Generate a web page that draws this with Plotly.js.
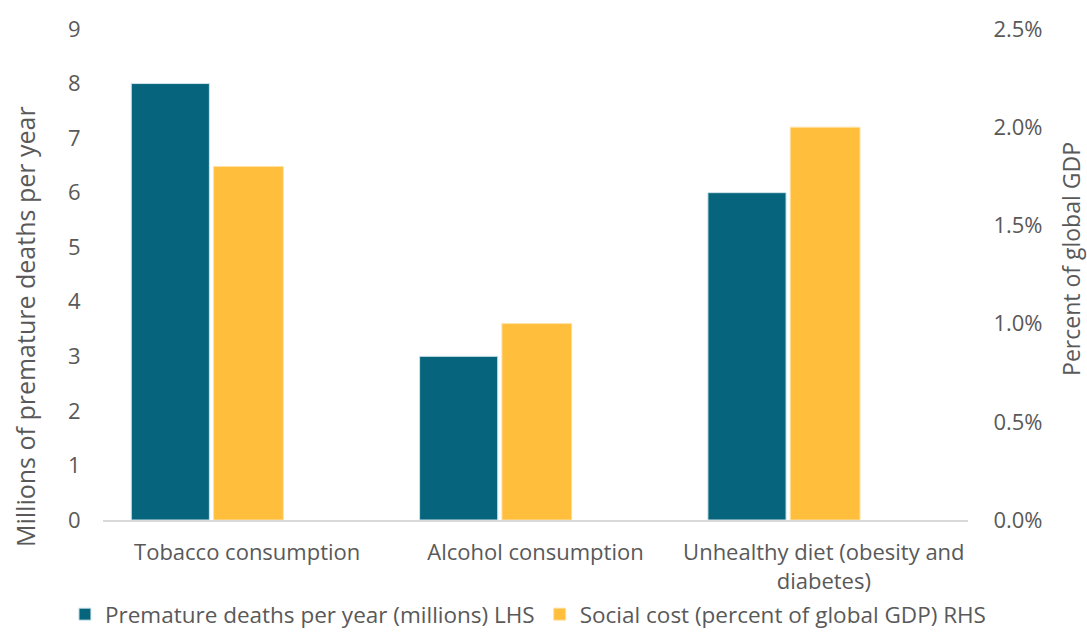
<!DOCTYPE html>
<html>
<head>
<meta charset="utf-8">
<script src="https://cdn.plot.ly/plotly-3.0.1.min.js"></script>
<style>html,body{margin:0;padding:0;background:#fff;}#chart{width:1087px;height:633px;}</style>
</head>
<body>
<div id="chart"></div>
<script>
const categories = ["Tobacco consumption", "Alcohol consumption", "Unhealthy diet (obesity and<br>diabetes)"];
const deathsMillions = [8, 3, 6];
const socialCostPct = [0.018, 0.010, 0.020];
const seriesNames = ["Premature deaths per year (millions) LHS", "Social cost (percent of global GDP) RHS"];
const leftTicks = [0,1,2,3,4,5,6,7,8,9];

const FONT = "'Open Sans', 'Noto Sans', sans-serif";
const GREY = "#595959";

const traces = [
  {type:'bar', x:categories, y:deathsMillions, name:seriesNames[0], yaxis:'y',
   marker:{color:'#06657c', line:{color:'#cfe3ea', width:1}}, offset:-0.402, width:0.271},
  {type:'bar', x:categories, y:socialCostPct, name:seriesNames[1], yaxis:'y2',
   marker:{color:'#ffbe3c', line:{color:'#ffe2a6', width:1}}, offset:-0.1165, width:0.242}
];

const layout = {
  width:1087, height:633,
  margin:{l:103, r:119, t:29, b:113, autoexpand:false},
  paper_bgcolor:'#fff', plot_bgcolor:'#fff',
  font:{family:FONT, color:GREY, size:22},
  barmode:'overlay',
  showlegend:true,
  legend:{orientation:'h', x:-0.044, xanchor:'left', y:-0.2363, yanchor:'bottom',
          font:{size:22.5, color:GREY}, itemwidth:30, tracegroupgap:0},
  xaxis:{type:'category', automargin:false, showline:true, linecolor:'#d9d9d9', linewidth:2, showgrid:false, zeroline:false,
         ticks:'outside', ticklen:12, tickcolor:'rgba(0,0,0,0)', tickfont:{size:22, color:GREY}},
  yaxis:{range:[0,9], automargin:false, tickvals:leftTicks, showgrid:false, zeroline:false, showline:false,
         ticks:'outside', ticklen:17, tickcolor:'rgba(0,0,0,0)', tickfont:{size:22, color:GREY}},
  yaxis2:{range:[0,0.025], automargin:false, dtick:0.005, tickformat:'.1%', overlaying:'y', side:'right', showgrid:false, zeroline:false,
          ticks:'outside', ticklen:20, tickcolor:'rgba(0,0,0,0)', tickfont:{size:22, color:GREY}},
  annotations:[
    {text:'Millions of premature deaths per year', xref:'paper', yref:'paper', x:-0.0902, y:0.395, textangle:-90,
     showarrow:false, font:{size:25, color:GREY}, xanchor:'center', yanchor:'middle'},
    {text:'Percent of global GDP', xref:'paper', yref:'paper', x:1.119, y:0.5316, textangle:-90,
     showarrow:false, font:{size:23, color:GREY}, xanchor:'center', yanchor:'middle'}
  ]
};

Plotly.newPlot('chart', traces, layout, {displayModeBar:false, responsive:false});
</script>
</body>
</html>
